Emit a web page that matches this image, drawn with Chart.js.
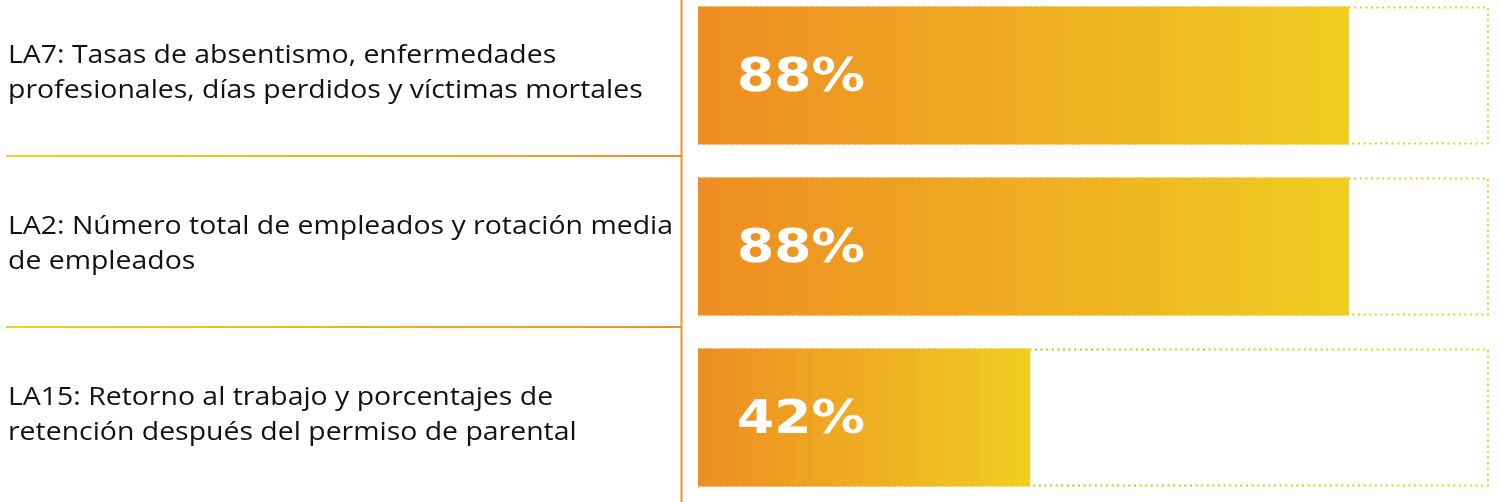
<!DOCTYPE html>
<html>
<head>
<meta charset="utf-8">
<script src="https://cdn.jsdelivr.net/npm/chart.js@4.4.1/dist/chart.umd.min.js"></script>
<style>
  html, body { margin: 0; padding: 0; background: #ffffff; overflow: hidden; }
  #wrap { position: relative; width: 1499px; height: 502px; overflow: hidden; }
  #c { position: absolute; left: 0; top: -10px; }
</style>
</head>
<body>
<div id="wrap"><canvas id="c" width="1499" height="513"></canvas></div>
<script>
// ---- data ----
const categories = [
  ["LA7: Tasas de absentismo, enfermedades", "profesionales, días perdidos y víctimas mortales"],
  ["LA2: Número total de empleados y rotación media", "de empleados"],
  ["LA15: Retorno al trabajo y porcentajes de", "retención después del permiso de parental"]
];
const barValues = [82.3, 82.3, 42];
const valueLabels = ["88%", "88%", "42%"];

// ---- styles ----
const ORANGE = "#EE8D22";
const YELLOW = "#F0CD21";
const LINE_ORANGE = "#EF9023";
const LINE_YELLOW = "#F5D11E";
const LABEL_FONT = "26px 'Open Sans'";

function barGradient(ctx) {
  const chart = ctx.chart;
  const area = chart.chartArea;
  if (!area) return ORANGE;
  const xs = chart.scales.x;
  const x0 = xs.getPixelForValue(0);
  const x1 = xs.getPixelForValue(barValues[ctx.dataIndex]);
  const g = chart.ctx.createLinearGradient(x0, 0, x1, 0);
  g.addColorStop(0, ORANGE);
  g.addColorStop(1, YELLOW);
  return g;
}

const decor = {
  id: "decor",
  beforeDatasetsDraw(chart) {
    const c = chart.ctx;
    const xs = chart.scales.x;
    const meta = chart.getDatasetMeta(0);
    const x0 = xs.getPixelForValue(0);
    const x1 = xs.getPixelForValue(100);
    c.save();
    meta.data.forEach((el) => {
      const top = el.y - el.height / 2;
      const h = el.height;
      const g = c.createLinearGradient(x0, 0, x1, 0);
      g.addColorStop(0, ORANGE);
      g.addColorStop(1, YELLOW);
      c.strokeStyle = g;
      c.lineWidth = 2;
      c.setLineDash([2, 3.6]);
      c.strokeRect(x0 + 1, top + 1, x1 - x0 - 2, h - 2);
    });
    c.restore();
  },
  afterDatasetsDraw(chart) {
    const c = chart.ctx;
    const xs = chart.scales.x;
    const meta = chart.getDatasetMeta(0);
    c.save();
    c.fillStyle = "#ffffff";
    c.font = "bold 47px 'DejaVu Sans'";
    c.textBaseline = "alphabetic";
    c.textAlign = "left";
    meta.data.forEach((el, i) => {
      const txt = valueLabels[i];
      const w = c.measureText(txt).width;
      const sx = 128 / w;
      c.save();
      c.translate(xs.getPixelForValue(0) + 39, el.y + 15);
      c.scale(sx, 1);
      c.fillText(txt, 0, 0);
      c.restore();
    });
    c.restore();
  },
  afterDraw(chart) {
    const c = chart.ctx;
    const area = chart.chartArea;
    const ys = chart.scales.y;
    const lineX = area.left - 16.5;
    c.save();
    // category labels (horizontally widened to the original's text width)
    c.font = LABEL_FONT;
    c.fillStyle = "#111111";
    c.textAlign = "left";
    c.textBaseline = "alphabetic";
    let widest = 0;
    categories.forEach(lines => lines.forEach(l => { widest = Math.max(widest, c.measureText(l).width); }));
    const sx = 665 / widest;
    categories.forEach((lines, i) => {
      const yc = ys.getPixelForValue(i);
      lines.forEach((l, k) => {
        c.save();
        c.translate(8, yc - 13 + k * 35);
        c.scale(sx, 1);
        c.fillText(l, 0, 0);
        c.restore();
      });
    });
    // separators between categories
    const g = c.createLinearGradient(6, 0, lineX, 0);
    g.addColorStop(0, LINE_YELLOW);
    g.addColorStop(1, LINE_ORANGE);
    c.strokeStyle = g;
    c.lineWidth = 2;
    for (let i = 0; i < categories.length - 1; i++) {
      const y = (ys.getPixelForValue(i) + ys.getPixelForValue(i + 1)) / 2 - 5;
      c.beginPath();
      c.moveTo(6, y);
      c.lineTo(lineX, y);
      c.stroke();
    }
    // vertical divider
    c.strokeStyle = LINE_ORANGE;
    c.lineWidth = 2;
    c.beginPath();
    c.moveTo(lineX, 0);
    c.lineTo(lineX, chart.height);
    c.stroke();
    c.restore();
  }
};

new Chart(document.getElementById("c"), {
  type: "bar",
  data: {
    labels: categories,
    datasets: [
      {
        data: barValues,
        backgroundColor: barGradient,
        borderWidth: 0,
        barPercentage: 0.806,
        categoryPercentage: 1
      }
    ]
  },
  options: {
    indexAxis: "y",
    responsive: false,
    animation: false,
    events: [],
    layout: { padding: { left: 8, right: 10, top: 0, bottom: 0 } },
    plugins: { legend: { display: false }, tooltip: { enabled: false } },
    scales: {
      x: { display: false, min: 0, max: 100 },
      y: {
        afterFit(scale) { scale.width = 690; },
        grid: { display: false, drawTicks: false },
        border: { display: false },
        ticks: { display: false }
      }
    }
  },
  plugins: [decor]
});
</script>
</body>
</html>
